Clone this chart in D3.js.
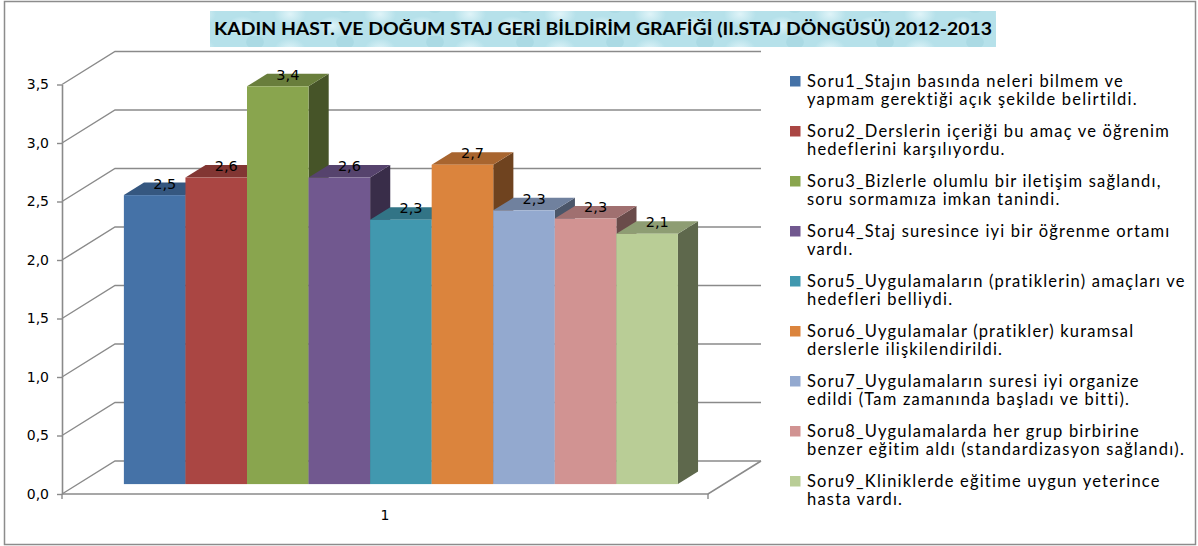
<!DOCTYPE html>
<html>
<head>
<meta charset="utf-8">
<script src="https://cdn.jsdelivr.net/npm/d3@7"></script>
<style>
  body { margin: 0; background: #fff; }
  svg { display: block; }
</style>
</head>
<body>
<div id="chart"></div>
<script>
const categories = ["1"];
const seriesNames = [
    "Soru1_Stajın basında neleri bilmem ve\nyapmam gerektiği açık şekilde belirtildi.",
    "Soru2_Derslerin içeriği bu amaç ve öğrenim\nhedeflerini karşılıyordu.",
    "Soru3_Bizlerle olumlu bir iletişim sağlandı,\nsoru sormamıza imkan tanindi.",
    "Soru4_Staj suresince iyi bir öğrenme ortamı\nvardı.",
    "Soru5_Uygulamaların (pratiklerin) amaçları ve\nhedefleri belliydi.",
    "Soru6_Uygulamalar (pratikler) kuramsal\nderslerle ilişkilendirildi.",
    "Soru7_Uygulamaların suresi iyi organize\nedildi (Tam zamanında başladı ve bitti).",
    "Soru8_Uygulamalarda her grup birbirine\nbenzer eğitim aldı (standardizasyon sağlandı).",
    "Soru9_Kliniklerde eğitime uygun yeterince\nhasta vardı."
];
const seriesValues = [2.47, 2.62, 3.40, 2.62, 2.26, 2.73, 2.34, 2.27, 2.14];
const seriesColors = ["#4572A7", "#AA4643", "#89A54E", "#71588F", "#4198AF",
                      "#DB843D", "#93A9CF", "#D19392", "#B9CD96"];
const yDomain = [0, 3.5];
const titleText = "KADIN HAST. VE DOĞUM STAJ GERİ BİLDİRİM GRAFİĞİ (II.STAJ DÖNGÜSÜ) 2012-2013";

const width = 1198, height = 546;
const gridColor = "#8a8a8a";

// oblique depth of the plot floor, and where the bars sit in it
const depthDx = 53, depthDy = -33;
const barFront = 0.30, barBack = 0.68;

const svg = d3.select("#chart").append("svg")
    .attr("width", width)
    .attr("height", height);

// outer frame
svg.append("rect")
    .attr("x", 4.5).attr("y", 1.5)
    .attr("width", 1191).attr("height", 543)
    .attr("fill", "#fff")
    .attr("stroke", "#8c8c8c")
    .attr("stroke-width", 1.5);

// title box with a watery pattern
const defs = svg.append("defs");
const rg = defs.append("radialGradient").attr("id", "drop");
rg.append("stop").attr("offset", "0%").attr("stop-color", "#e4f6fa").attr("stop-opacity", 0.9);
rg.append("stop").attr("offset", "100%").attr("stop-color", "#e4f6fa").attr("stop-opacity", 0);
const pat = defs.append("pattern")
    .attr("id", "water")
    .attr("patternUnits", "userSpaceOnUse")
    .attr("width", 90).attr("height", 36);
pat.append("rect").attr("width", 90).attr("height", 36).attr("fill", "#b6e1ea");
pat.append("ellipse").attr("cx", 20).attr("cy", 14).attr("rx", 16).attr("ry", 12).attr("fill", "url(#drop)");
pat.append("ellipse").attr("cx", 62).attr("cy", 26).attr("rx", 14).attr("ry", 10).attr("fill", "url(#drop)");
pat.append("ellipse").attr("cx", 75).attr("cy", 6).attr("rx", 9).attr("ry", 7).attr("fill", "#9fd3de").attr("opacity", 0.5);

svg.append("rect")
    .attr("x", 210).attr("y", 11)
    .attr("width", 786).attr("height", 36)
    .attr("fill", "url(#water)");

svg.append("text")
    .attr("x", 603).attr("y", 35)
    .attr("text-anchor", "middle")
    .attr("textLength", 778)
    .attr("lengthAdjust", "spacingAndGlyphs")
    .style("font-family", "Lato, 'Liberation Sans', sans-serif")
    .style("font-weight", 700)
    .style("font-size", "16.5px")
    .attr("fill", "#000")
    .text(titleText);

// scales (front plane)
const y = d3.scaleLinear()
    .domain(yDomain)
    .range([494, 84.5]);

const xCat = d3.scaleBand()
    .domain(categories)
    .range([62, 708])
    .paddingInner(0)
    .paddingOuter(0.083);

const xSeries = d3.scaleBand()
    .domain(d3.range(seriesNames.length))
    .range([0, xCat.bandwidth()]);

const proj = (x, v, f) => [x + f * depthDx, y(v) + f * depthDy];

const fmt = d3.formatLocale({decimal: ",", thousands: ".", grouping: [3], currency: ["", ""]}).format(".1f");

const plot = svg.append("g");
const yTicks = y.ticks(7);

// side wall + back wall gridlines
plot.selectAll(".grid")
    .data(yTicks)
    .join("path")
        .attr("class", "grid")
        .attr("d", d => {
            const a = proj(xCat.range()[0], d, 0);
            const b = proj(xCat.range()[0], d, 1);
            const c = proj(xCat.range()[1], d, 1);
            return `M${a}L${b}L${c}`;
        })
        .attr("fill", "none")
        .attr("stroke", gridColor)
        .attr("stroke-width", 1.4);

// floor: front edge, right edge, boundary ticks
const [fx0, fx1] = xCat.range();
plot.append("path")
    .attr("d", `M${proj(fx0, 0, 0)}L${proj(fx1, 0, 0)}L${proj(fx1, 0, 1)}`)
    .attr("fill", "none")
    .attr("stroke", gridColor)
    .attr("stroke-width", 1.6);

plot.selectAll(".xtick")
    .data([fx0, fx1])
    .join("line")
        .attr("class", "xtick")
        .attr("x1", d => d).attr("x2", d => d)
        .attr("y1", y(0)).attr("y2", y(0) + 5)
        .attr("stroke", gridColor)
        .attr("stroke-width", 1.4);

plot.selectAll(".xlabel")
    .data(categories)
    .join("text")
        .attr("class", "xlabel")
        .attr("x", d => xCat(d) + xCat.bandwidth() / 2)
        .attr("y", 520)
        .attr("text-anchor", "middle")
        .style("font-family", "'DejaVu Sans', sans-serif")
        .style("font-size", "14px")
        .text(d => d);

// y axis
const yAxis = d3.axisLeft(y)
    .tickValues(yTicks)
    .tickFormat(fmt)
    .tickSize(5)
    .tickSizeOuter(0)
    .tickPadding(8);

const yG = plot.append("g")
    .attr("transform", `translate(${fx0},0)`)
    .call(yAxis);
yG.select(".domain").attr("stroke", gridColor).attr("stroke-width", 1.6);
yG.selectAll(".tick line").attr("stroke", gridColor).attr("stroke-width", 1.4);
yG.selectAll(".tick text")
    .attr("fill", "#000")
    .style("font-family", "'DejaVu Sans', sans-serif")
    .style("font-size", "14px");

// 3D columns, drawn left to right so each one covers the previous side face
const bars = seriesValues.map((v, i) => ({i, v, x: xCat(categories[0]) + xSeries(i), color: seriesColors[i]}));
const w = xSeries.bandwidth();

const barG = plot.selectAll(".bar")
    .data(bars)
    .join("g")
        .attr("class", "bar");

barG.append("path")
    .attr("d", d => `M${proj(d.x + w, d.v, barFront)}L${proj(d.x + w, d.v, barBack)}L${proj(d.x + w, 0, barBack)}L${proj(d.x + w, 0, barFront)}Z`)
    .attr("fill", d => d3.color(d.color).darker(1.9));

barG.append("path")
    .attr("d", d => `M${proj(d.x, d.v, barFront)}L${proj(d.x + w, d.v, barFront)}L${proj(d.x + w, d.v, barBack)}L${proj(d.x, d.v, barBack)}Z`)
    .attr("fill", d => d3.color(d.color).darker(0.75));

barG.append("rect")
    .attr("x", d => proj(d.x, d.v, barFront)[0])
    .attr("y", d => proj(d.x, d.v, barFront)[1])
    .attr("width", w)
    .attr("height", d => y(0) - y(d.v))
    .attr("fill", d => d.color);

// value labels above the top faces
plot.selectAll(".value")
    .data(bars)
    .join("text")
        .attr("class", "value")
        .attr("x", d => proj(d.x + w / 2, d.v, (barFront + barBack) / 2)[0])
        .attr("y", d => proj(d.x + w / 2, d.v, (barFront + barBack) / 2)[1])
        .attr("text-anchor", "middle")
        .style("font-family", "'DejaVu Sans', sans-serif")
        .style("font-size", "14.5px")
        .attr("fill", "#000")
        .text(d => fmt(d.v));

// legend
const legend = svg.append("g")
    .attr("transform", "translate(790,0)");

const item = legend.selectAll(".item")
    .data(seriesNames)
    .join("g")
        .attr("class", "item")
        .attr("transform", (d, i) => `translate(0,${86.5 + i * 50})`);

item.append("rect")
    .attr("x", 0).attr("y", -10.5)
    .attr("width", 10.5).attr("height", 10.5)
    .attr("fill", (d, i) => seriesColors[i]);

item.append("text")
    .attr("x", 17)
    .style("font-family", "Lato, 'Liberation Sans', sans-serif")
    .style("font-size", "16.5px")
    .style("letter-spacing", "1.2px")
    .attr("fill", "#000")
    .selectAll("tspan")
    .data(d => d.split("\n"))
    .join("tspan")
        .attr("x", 17)
        .attr("y", (d, j) => j * 18.5)
        .text(d => d);
</script>
</body>
</html>
